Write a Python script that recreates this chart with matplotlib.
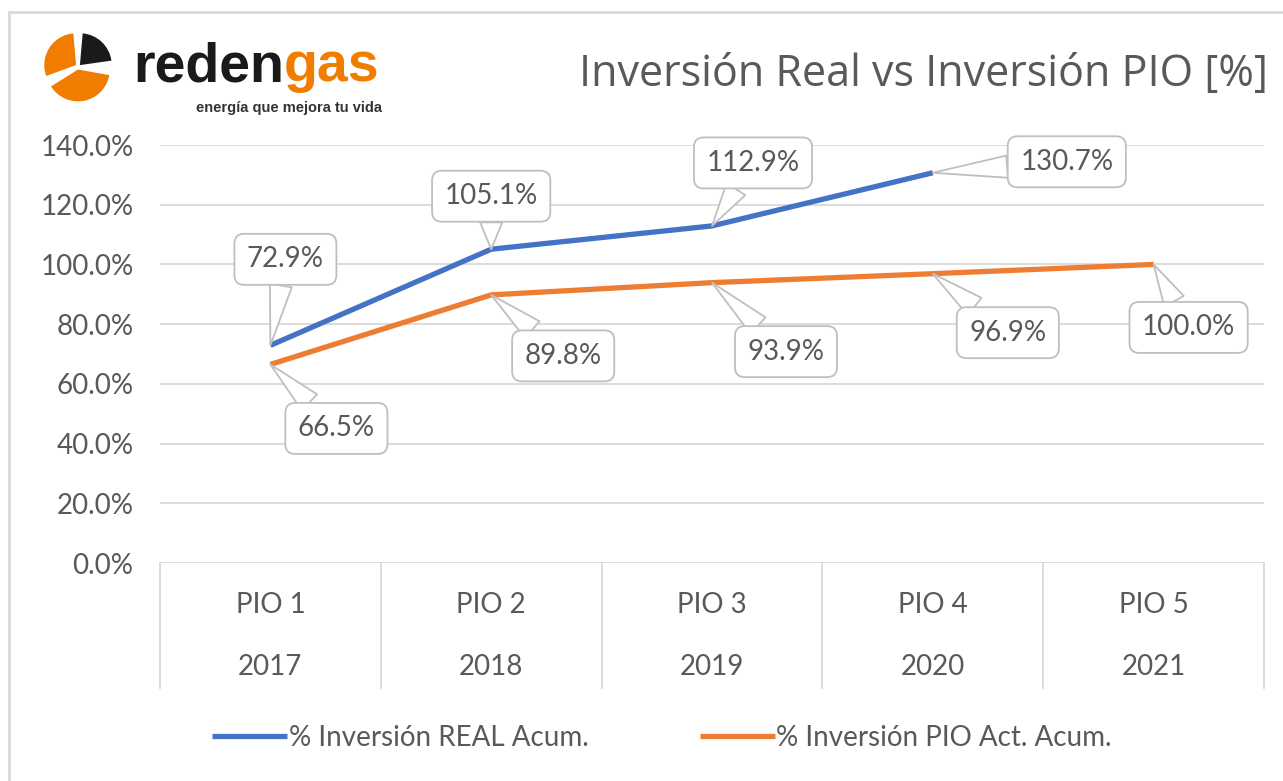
import numpy as np
import matplotlib
matplotlib.use("Agg")
from matplotlib import pyplot as plt
from matplotlib.patches import Wedge
from matplotlib.lines import Line2D
from matplotlib.transforms import blended_transform_factory

#data
pio = ["PIO 1", "PIO 2", "PIO 3", "PIO 4", "PIO 5"]
years = ["2017", "2018", "2019", "2020", "2021"]
real_acum = [72.9, 105.1, 112.9, 130.7]
pio_acum = [66.5, 89.8, 93.9, 96.9, 100.0]
yticks = [0, 20, 40, 60, 80, 100, 120, 140]

#label offsets in pixels (dx, dy) for the callouts
real_off = [(15, 86), (0, 53), (41, 63), (134, 11)]
pio_off = [(66, -64), (72, -61), (74, -69), (75, -59), (35, -63)]

blue = "#4472C4"
orange = "#ED7D31"
grey_txt = "#595959"
W, H = 1283, 781
plt.rcParams['font.family'] = ['Lato', 'DejaVu Sans']
fs = 20

fig = plt.figure(figsize=(W / 100, H / 100), dpi=100)
fig.patch.set_facecolor("white")

def fx(px):
    return px / W

def fy(py):
    return 1 - py / H

# outer frame (top and left edges visible)
fig.add_artist(Line2D([fx(9), 1], [fy(12), fy(12)], color="#D9D9D9", lw=2))
fig.add_artist(Line2D([fx(9), fx(9)], [fy(12), 0], color="#D9D9D9", lw=2))

ax = fig.add_axes([fx(160), fy(563), fx(1264) - fx(160), fy(145) - fy(563)])
x = np.arange(len(pio))
ax.set_xlim(-0.5, len(pio) - 0.5)
ax.set_ylim(0, 140)
ax.set_yticks(yticks)
ax.set_yticklabels(["%.1f%%" % v for v in yticks], fontsize=fs, color=grey_txt)
ax.tick_params(axis="y", length=0, pad=19)
ax.set_xticks([])
for s in ax.spines.values():
    s.set_visible(False)
ax.grid(axis="y", color="#D9D9D9", lw=1.3)
ax.set_axisbelow(True)

l1, = ax.plot(x[:len(real_acum)], real_acum, color=blue, lw=3.8, solid_capstyle="butt",
              label="% Inversión REAL Acum.")
l2, = ax.plot(x, pio_acum, color=orange, lw=3.8, solid_capstyle="butt",
              label="% Inversión PIO Act. Acum.")

# callouts
def callout(xi, yv, off):
    ax.annotate("%.1f%%" % yv, xy=(xi, yv), xytext=off, textcoords="offset pixels",
                ha="center", va="center", fontsize=fs, color=grey_txt,
                bbox=dict(boxstyle="round,pad=0.45,rounding_size=0.35", fc="white", ec="#BFBFBF", lw=1.3),
                arrowprops=dict(arrowstyle="wedge,tail_width=0.8,shrink_factor=0.5",
                                fc="white", ec="#BFBFBF", lw=1.3, shrinkA=0, shrinkB=0),
                zorder=5)

for i, v in enumerate(real_acum):
    callout(x[i], v, real_off[i])
for i, v in enumerate(pio_acum):
    callout(x[i], v, pio_off[i])

# category axis boxes
tr = blended_transform_factory(ax.transData, ax.transAxes)
for b in np.arange(len(pio) + 1) - 0.5:
    ax.plot([b, b], [0, -0.30], color="#D9D9D9", lw=1.3, transform=tr, clip_on=False)
for i in range(len(pio)):
    ax.text(x[i], -0.10, pio[i], transform=tr, ha="center", va="center", fontsize=fs, color=grey_txt)
    ax.text(x[i], -0.248, years[i], transform=tr, ha="center", va="center", fontsize=fs, color=grey_txt)

fig.legend(handles=[l1, l2], loc="center", bbox_to_anchor=(fx(662), fy(738)), ncol=2,
           frameon=False, fontsize=fs, handlelength=2.7, handletextpad=0.05,
           columnspacing=4.0, labelcolor=grey_txt)

# title
fig.text(fx(1268), fy(75), "Inversión Real vs Inversión PIO [%]", ha="right", va="center",
         fontsize=31, color=grey_txt, family=["Open Sans", "DejaVu Sans"])

# logo
lax = fig.add_axes([fx(42), fy(102), fx(72), fy(32) - fy(102)])
lax.set_xlim(-1.1, 1.1)
lax.set_ylim(-1.1, 1.1)
lax.set_aspect("equal")
lax.axis("off")
lax.add_patch(Wedge((0.06, 0.06), 1, 8, 85, fc="#1A1A1A"))
lax.add_patch(Wedge((-0.06, 0.06), 1, 95, 200, fc="#F07D00"))
lax.add_patch(Wedge((0.0, -0.08), 1, 212, 350, fc="#F07D00"))

t1 = fig.text(fx(133), fy(67), "reden", ha="left", va="center", fontsize=40,
              fontweight="bold", color="#1A1A1A", family=["Liberation Sans", "DejaVu Sans"])
fig.add_artist(matplotlib.text.Annotation("gas", xy=(1, 0), xycoords=t1, ha="left", va="bottom",
               fontsize=40, fontweight="bold", color="#F07D00",
               family=["Liberation Sans", "DejaVu Sans"]))
fig.text(fx(382), fy(108), "energía que mejora tu vida", ha="right", va="center", fontsize=10.5,
         fontweight="bold", color="#333333", family=["Liberation Sans", "DejaVu Sans"])

fig.savefig("out.png", dpi=100)
